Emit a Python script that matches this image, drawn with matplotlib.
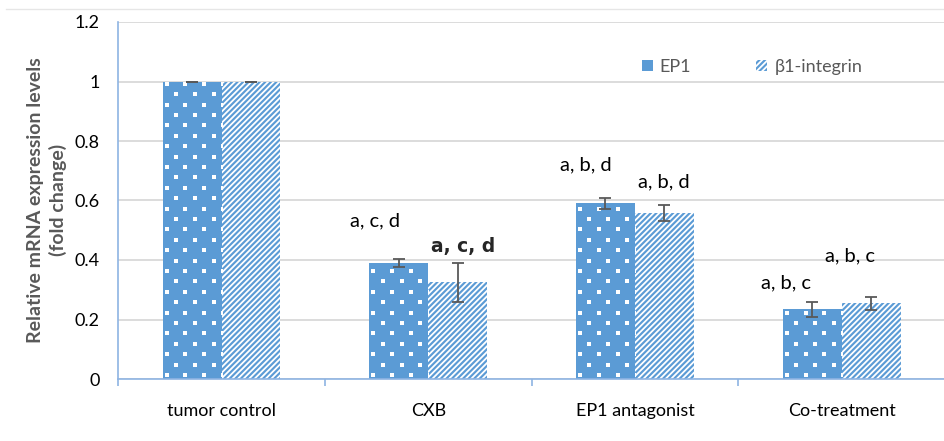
import numpy as np
import matplotlib
matplotlib.use('Agg')
import matplotlib.pyplot as plt
from matplotlib.patches import Patch
from matplotlib.lines import Line2D

# data
groups = ['tumor control', 'CXB', 'EP1 antagonist', 'Co-treatment']
ep1 = [1.0, 0.39, 0.59, 0.235]
ep1_err = [0.0, 0.015, 0.02, 0.025]
itg = [1.0, 0.325, 0.558, 0.255]
itg_err = [0.0, 0.066, 0.026, 0.022]
series_names = ['EP1', 'β1-integrin']

# significance letters: (text, x in category units, y)
sig_labels = ['a, c, d', 'a, c, d', 'a, b, d', 'a, b, d', 'a, b, c', 'a, b, c']
sig_x = [0.74, 1.17, 1.76, 2.14, 2.73, 3.04]
sig_y = [0.532, 0.445, 0.72, 0.664, 0.322, 0.414]
sig_bold = [False, True, False, False, False, False]

BLUE = '#5B9BD5'
GRID = '#D9D9D9'
AXIS = '#8EB4E3'
TXT = '#000000'

plt.rcParams['font.family'] = ['Lato', 'DejaVu Sans']
plt.rcParams['hatch.linewidth'] = 1.3


def add_square_dots(ax, bars):
    """White staggered square dots clipped to each bar (Excel pattern fill)."""
    step_x, step_y = 19.0, 10.4
    tr = ax.transData
    for bar in bars:
        (x0, y0), (x1, y1) = tr.transform([(bar.get_x(), 0.0),
                                           (bar.get_x() + bar.get_width(), bar.get_height())])
        pts = []
        row = 0
        y = y0 + 4
        while y < y1 + 3:
            x = x0 + (4 if row % 2 == 0 else 4 + step_x / 2)
            while x < x1 + 3:
                pts.append((x, y))
                x += step_x
            y += step_y
            row += 1
        if not pts:
            continue
        d = tr.inverted().transform(pts)
        sc = ax.scatter(d[:, 0], d[:, 1], marker='s', s=12, color='white',
                        linewidths=0, zorder=2.1)
        sc.set_clip_path(bar)


fig = plt.figure(figsize=(9.45, 4.41), dpi=100)
ax = fig.add_axes([118 / 945, 62 / 441, 827 / 945, 357 / 441])

x = np.arange(len(groups))
w = 0.285
bars1 = ax.bar(x - w / 2, ep1, w, color=BLUE, linewidth=0, zorder=2)
bars2 = ax.bar(x + w / 2, itg, w, color=BLUE, edgecolor='white', linewidth=0,
               hatch='//////', zorder=2)

ax.errorbar(x - w / 2, ep1, yerr=ep1_err, fmt='none', ecolor='#595959',
            elinewidth=1.3, capsize=4, capthick=1.3, zorder=4)
ax.errorbar(x + w / 2, itg, yerr=itg_err, fmt='none', ecolor='#595959',
            elinewidth=1.3, capsize=4, capthick=1.3, zorder=4)

ax.set_xlim(-0.501, 3.465)
ax.set_ylim(0, 1.2)
add_square_dots(ax, bars1)

ax.set_yticks(np.arange(0, 1.21, 0.2))
ax.set_yticklabels(['0', '0.2', '0.4', '0.6', '0.8', '1', '1.2'], fontsize=13)
ax.tick_params(axis='y', length=0, pad=13)
ax.set_xticks(x)
ax.set_xticklabels(groups, fontsize=13)
ax.set_xticks(np.arange(-0.5, 3.6, 1.0), minor=True)
ax.tick_params(axis='x', which='major', length=0, pad=17)
ax.tick_params(axis='x', which='minor', length=5, color=AXIS, width=1.2)
ax.grid(axis='y', color=GRID, linewidth=1.3, zorder=0)
ax.set_axisbelow(True)
for s in ['top', 'right']:
    ax.spines[s].set_visible(False)
for s in ['left', 'bottom']:
    ax.spines[s].set_color(AXIS)
    ax.spines[s].set_linewidth(1.2)

fig.text(0.050, 1 - 200 / 441, 'Relative mRNA expression levels\n(fold change)',
         rotation=90, ha='center', va='center', fontsize=14,
         fontweight='bold', color='#595959', linespacing=1.3)

for t, tx, ty, bold in zip(sig_labels, sig_x, sig_y, sig_bold):
    if bold:
        ax.text(tx, ty, t, ha='center', va='center', fontsize=13.5,
                fontweight='bold', family='DejaVu Sans', color='#262626', zorder=5)
    else:
        ax.text(tx, ty, t, ha='center', va='center', fontsize=14.5, color=TXT, zorder=5)

handles = [Patch(facecolor=BLUE, linewidth=0),
           Patch(facecolor=BLUE, edgecolor='white', linewidth=0, hatch='//////')]
leg = fig.legend(handles, series_names, loc='center', ncol=2,
                 bbox_to_anchor=(752 / 945, 1 - 67 / 441), frameon=False,
                 fontsize=13, handlelength=0.6, handleheight=0.6,
                 handletextpad=0.4, columnspacing=3.6)
for t in leg.get_texts():
    t.set_color('#595959')

fig.add_artist(Line2D([6 / 945, 1], [1 - 9 / 441, 1 - 9 / 441],
                      color='#E6E6E6', linewidth=1.0))

fig.savefig('out.png', dpi=100)
